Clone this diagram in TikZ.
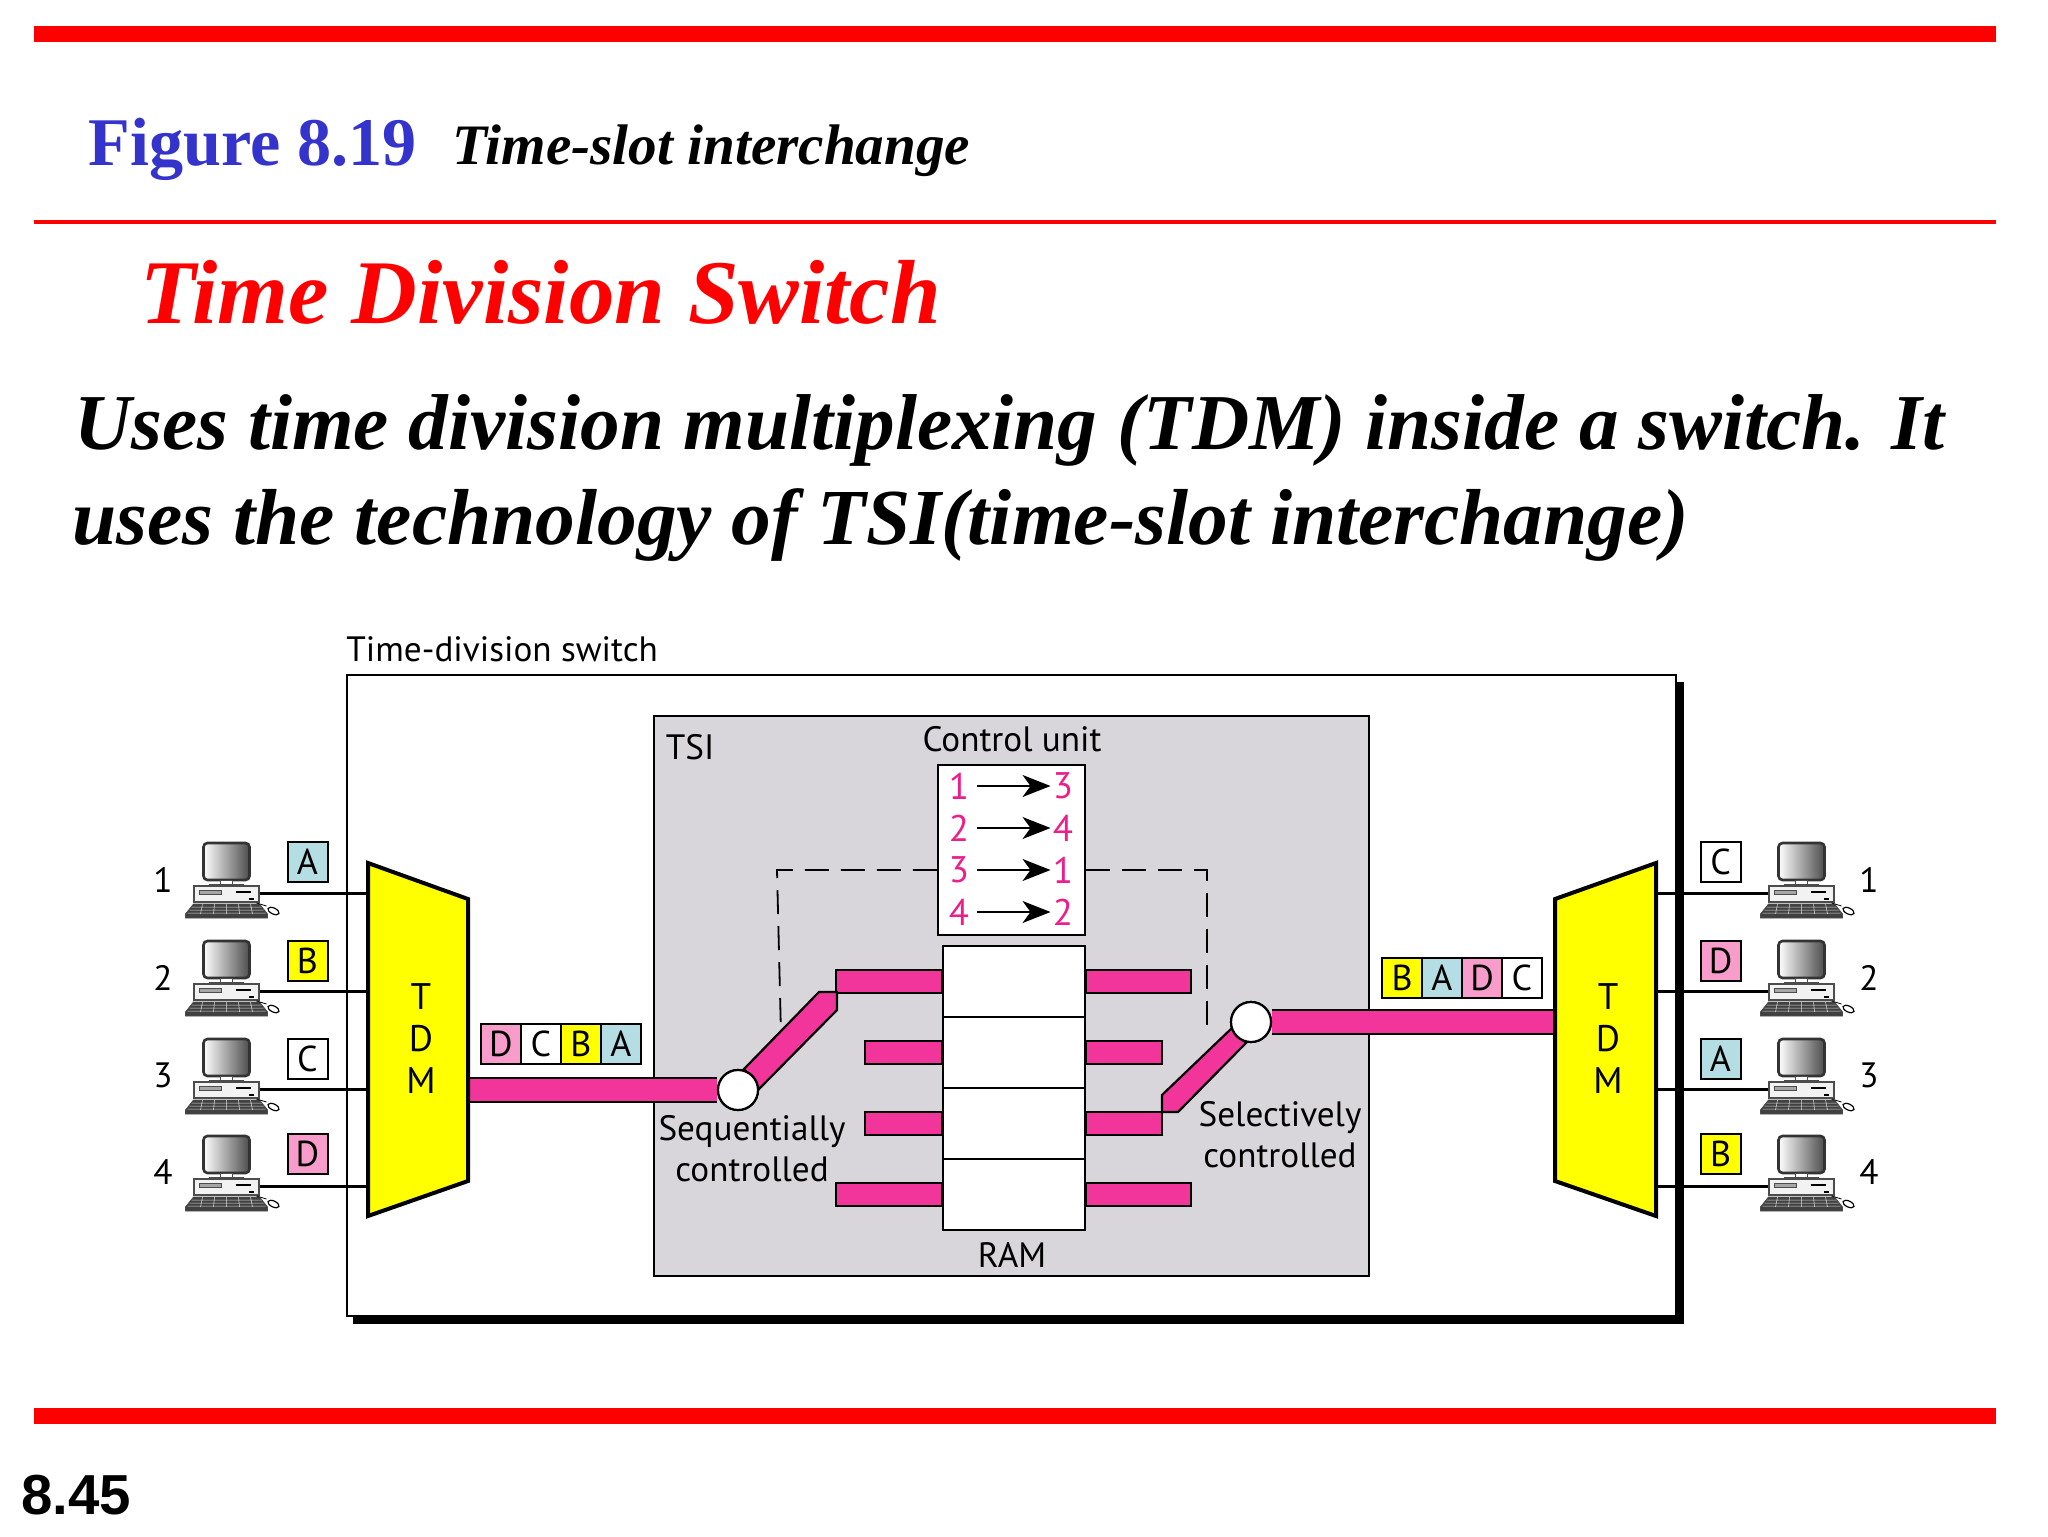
\documentclass[tikz,border=0pt]{standalone}
\usepackage{fontspec}
\setmainfont{Liberation Serif}
\newfontfamily\labelfont{PT Sans}
\newfontfamily\pagefont{Liberation Sans}
\usetikzlibrary{arrows.meta,chains,positioning,shapes}
\definecolor{barred}{HTML}{FF0000}
\definecolor{titleblue}{HTML}{3434CC}
\definecolor{linkpink}{HTML}{F2359A}
\definecolor{slotpink}{HTML}{F79CCB}
\definecolor{slotblue}{HTML}{B5DDE4}
\definecolor{slotyellow}{HTML}{FFFF00}
\definecolor{tsigray}{HTML}{D8D6DA}
\definecolor{digitpink}{HTML}{EC1E8C}
\tikzstyle{redbar}=[fill=barred,draw=none]
\tikzstyle{heading}=[anchor=base west,inner sep=0pt]
\tikzstyle{label}=[inner sep=0pt,font=\labelfont\fontsize{17.6}{20.5}\selectfont,align=center]
\tikzstyle{tdmlabel}=[inner sep=0pt,font=\labelfont\fontsize{18.5}{21}\selectfont,align=center]
\tikzstyle{slot}=[draw,line width=1pt,minimum size=20pt,inner sep=0pt,font=\labelfont\fontsize{18}{20}\selectfont]
\tikzstyle{tdmbody}=[draw,line width=2pt,fill=slotyellow,line join=miter]
\tikzstyle{link}=[draw,line width=1.1pt,fill=linkpink]
\tikzstyle{trunk}=[line width=1.1pt,double=linkpink,double distance=11pt]
\tikzstyle{wire}=[draw,line width=1.5pt]
\tikzstyle{ramcell}=[draw,line width=1pt,fill=white,minimum width=71pt,minimum height=35.5pt,inner sep=0pt]
\tikzstyle{digit}=[inner sep=0pt,text=digitpink,font=\labelfont\fontsize{18.5}{20}\selectfont]
\tikzstyle{mapping}=[line width=.9pt,-{Stealth[length=14pt,width=11pt,inset=4pt]},shorten <=4pt,shorten >=1pt]
\tikzstyle{gate}=[draw,line width=1.1pt,fill=white,circle,minimum size=20pt,inner sep=0pt]
\tikzstyle{ctrlline}=[line width=.9pt,dash pattern=on 12pt off 6pt]
\newcommand{\workstation}[3]{%
    \draw[line width=1.3pt,rounded corners=2pt,left color=white,right color=black!70,draw=black!80] (#2-23,#3-50) rectangle (#2+23,#3-13);
    \draw[fill=white,draw=black!70,line width=.5pt] (#2-6,#3-13) rectangle (#2+6,#3-9);
    \draw[fill=black!30,draw=black!70,line width=.5pt] (#2-17,#3-9) rectangle (#2+17,#3-7);
    \node[draw=black!70,fill=black!5,line width=.6pt,minimum width=32.5pt,minimum height=8pt,inner sep=0pt] (#1) at (#2,#3+1) {};
    \draw[fill=black!35,draw=black!70,line width=.4pt] (#2-27,#3-3) rectangle (#2-5,#3+1);
    \draw[line width=.6pt] (#2+9,#3-1) -- (#2+24,#3-1);
    \fill (#2+22,#3+5) rectangle (#2+27,#3+7);
    \draw[fill=black!75,draw=black!70,line width=.4pt] (#2-33,#3+11) -- (#2+33,#3+11) -- (#2+41,#3+21) -- (#2+41,#3+25) -- (#2-41,#3+25) -- (#2-41,#3+21) -- cycle;
    \draw[black!15,line width=.25pt] (#2-35,#3+14) -- (#2+35,#3+14) (#2-37,#3+17) -- (#2+37,#3+17) (#2-39,#3+20) -- (#2+39,#3+20)
        (#2-24,#3+11) -- (#2-26,#3+21) (#2-12,#3+11) -- (#2-13,#3+21) (#2,#3+11) -- (#2,#3+21) (#2+12,#3+11) -- (#2+13,#3+21) (#2+24,#3+11) -- (#2+26,#3+21);
    \draw[line width=.4pt] (#2+30,#3+10) -- (#2+40,#3+13);
    \draw[fill=white,line width=.6pt,rotate around={-25:(#2+47,#3+18)}] (#2+47,#3+18) ellipse (6 and 3);
}

\begin{document}
\begin{tikzpicture}[x=.5pt,y=-.5pt]
\useasboundingbox (0,0) rectangle (2048,1536);
% rules of the slide
\fill[redbar] (34,26) rectangle (1996,42);
\fill[redbar] (34,220) rectangle (1996,223.5);
\fill[redbar] (34,1408) rectangle (1996,1424);
% headings
\node[heading,text=titleblue,font=\bfseries\fontsize{34.1}{40}\selectfont] (figno) at (88,165) {Figure 8.19};
\node[heading,font=\bfseries\itshape\fontsize{28.6}{34}\selectfont] (figname) at (452.5,164.5) {Time-slot interchange};
\node[heading,text=barred,font=\bfseries\itshape\fontsize{45.5}{54}\selectfont] (topic) at (140,323) {Time Division Switch};
\node[heading,font=\bfseries\itshape\fontsize{39.6}{46}\selectfont] (lineone) at (74,449) {Uses time division multiplexing (TDM) inside a switch. It};
\node[heading,font=\bfseries\itshape\fontsize{39.7}{46}\selectfont] (linetwo) at (72,544) {uses the technology of TSI(time-slot interchange)};
\node[heading,font=\pagefont\bfseries\fontsize{28.2}{34}\selectfont] (pageno) at (21,1514) {8.45};

% switch frame
\fill[black] (353,682) rectangle (1684,1324);
\draw[line width=1pt,fill=white] (347,675) rectangle (1676,1316);
\node[label,anchor=west] (switchname) at (346,649) {Time-division switch};
\draw[line width=1.1pt,fill=tsigray] (654,716) rectangle (1369,1276);
\node[label] (tsiname) at (690,747) {TSI};
\node[label] (ctrlname) at (1012,739) {Control unit};
\node[label] (ramname) at (1012,1255) {RAM};

% control unit
\node[draw,line width=1.1pt,fill=white,minimum width=73.5pt,minimum height=85pt,inner sep=0pt] (ctrl) at (1011.5,850) {};
\node[digit] (from1) at (959,786) {1};
\node[digit] (to1) at (1063,786) {3};
\node[digit] (from2) at (959,828) {2};
\node[digit] (to2) at (1063,828) {4};
\node[digit] (from3) at (959,870) {3};
\node[digit] (to3) at (1063,870) {1};
\node[digit] (from4) at (959,912) {4};
\node[digit] (to4) at (1063,912) {2};
\draw[mapping] (from1) -- (to1);
\draw[mapping] (from2) -- (to2);
\draw[mapping] (from3) -- (to3);
\draw[mapping] (from4) -- (to4);
\coordinate (dashL) at (781,1035);
\coordinate (dashR) at (1207,1035);
\draw[ctrlline] (ctrl.west |- from3) -- (777,870) -- (dashL);
\draw[ctrlline] (ctrl.east |- to3) -- (1207,870) -- (dashR);

% RAM
\begin{scope}[start chain=ram going below, node distance=-1pt]
    \node [on chain=ram,ramcell] (ram1) at (1014,981.5) {};
    \node [on chain=ram,ramcell] (ram2) {};
    \node [on chain=ram,ramcell] (ram3) {};
    \node [on chain=ram,ramcell] (ram4) {};
\end{scope}
\draw[link] (ram1.west) ++(-106,-11.5) rectangle ++(106,23);
\draw[link] (ram2.west) ++(-77,-11.5) rectangle ++(77,23);
\draw[link] (ram3.west) ++(-77,-11.5) rectangle ++(77,23);
\draw[link] (ram4.west) ++(-106,-11.5) rectangle ++(106,23);
\draw[link] (ram1.east) ++(0,-11.5) rectangle ++(105,23);
\draw[link] (ram2.east) ++(0,-11.5) rectangle ++(76,23);
\draw[link] (ram3.east) ++(0,-11.5) rectangle ++(76,23);
\draw[link] (ram4.east) ++(0,-11.5) rectangle ++(105,23);

% rotating arms and trunk lines
\draw[link] (744,1069) -- (819,992) -- (837,992) -- (837,1010) -- (759,1089) -- cycle;
\draw[link] (1162,1112) -- (1162,1095) -- (1233,1027) -- (1246,1043) -- (1178,1112) -- cycle;
\coordinate (tdminE) at (469,1090);
\coordinate (tdmoutW) at (1555,1022);
\node[gate] (gatein) at (738,1090) {};
\node[gate] (gateout) at (1251,1022) {};
\draw[trunk] (tdminE) -- (gatein);
\draw[trunk] (gateout) -- (tdmoutW);
\node[gate] at (gatein) {};
\node[gate] at (gateout) {};
\node[label] (seqname) at (752,1149) {Sequentially\\controlled};
\node[label] (selname) at (1280,1135) {Selectively\\controlled};

% multiplexers
\draw[tdmbody] (368,863) -- (468,899) -- (468,1181) -- (368,1216) -- cycle;
\draw[tdmbody] (1555,899) -- (1656,863) -- (1656,1216) -- (1555,1181) -- cycle;
\node[tdmlabel] (tdmin) at (421,1039) {T\\D\\M};
\node[tdmlabel] (tdmout) at (1608,1039) {T\\D\\M};
\coordinate (tdminW1) at (368,893);
\coordinate (tdminW2) at (368,991);
\coordinate (tdminW3) at (368,1089);
\coordinate (tdminW4) at (368,1186);
\coordinate (tdmoutE1) at (1656,893);
\coordinate (tdmoutE2) at (1656,991);
\coordinate (tdmoutE3) at (1656,1089);
\coordinate (tdmoutE4) at (1656,1186);

% stations
\workstation{pcL1}{226.5}{893}
\workstation{pcL2}{226.5}{991}
\workstation{pcL3}{226.5}{1089}
\workstation{pcL4}{226.5}{1186}
\workstation{pcR1}{1801.5}{893}
\workstation{pcR2}{1801.5}{991}
\workstation{pcR3}{1801.5}{1089}
\workstation{pcR4}{1801.5}{1186}
\draw[wire] (pcL1.east |- tdminW1) -- (tdminW1);
\draw[wire] (pcL2.east |- tdminW2) -- (tdminW2);
\draw[wire] (pcL3.east |- tdminW3) -- (tdminW3);
\draw[wire] (pcL4.east |- tdminW4) -- (tdminW4);
\draw[wire] (tdmoutE1) -- (pcR1.west |- tdmoutE1);
\draw[wire] (tdmoutE2) -- (pcR2.west |- tdmoutE2);
\draw[wire] (tdmoutE3) -- (pcR3.west |- tdmoutE3);
\draw[wire] (tdmoutE4) -- (pcR4.west |- tdmoutE4);
\node[label] (numL1) at (163,880) {1};
\node[label] (numL2) at (163,978) {2};
\node[label] (numL3) at (163,1075) {3};
\node[label] (numL4) at (163,1172) {4};
\node[label] (numR1) at (1869,880) {1};
\node[label] (numR2) at (1869,978) {2};
\node[label] (numR3) at (1869,1075) {3};
\node[label] (numR4) at (1869,1172) {4};

% time slots at the stations
\node[slot,fill=slotblue] (srcA) at (307.5,861.5) {A};
\node[slot,fill=slotyellow] (srcB) at (307.5,961) {B};
\node[slot] (srcC) at (307.5,1058.5) {C};
\node[slot,fill=slotpink] (srcD) at (307.5,1153.5) {D};
\node[slot] (dstC) at (1720.5,861.5) {C};
\node[slot,fill=slotpink] (dstD) at (1720.5,961) {D};
\node[slot,fill=slotblue] (dstA) at (1720.5,1058.5) {A};
\node[slot,fill=slotyellow] (dstB) at (1720.5,1153.5) {B};

% frames on the trunks
\begin{scope}[start chain=inframe going right, node distance=-1pt]
    \node [on chain=inframe,slot,fill=slotpink] (inD) at (501,1044) {D};
    \node [on chain=inframe,slot] (inC) {C};
    \node [on chain=inframe,slot,fill=slotyellow] (inB) {B};
    \node [on chain=inframe,slot,fill=slotblue] (inA) {A};
\end{scope}
\begin{scope}[start chain=outframe going right, node distance=-1pt]
    \node [on chain=outframe,slot,fill=slotyellow] (outB) at (1402,977.5) {B};
    \node [on chain=outframe,slot,fill=slotblue] (outA) {A};
    \node [on chain=outframe,slot,fill=slotpink] (outD) {D};
    \node [on chain=outframe,slot] (outC) {C};
\end{scope}
\end{tikzpicture}
\end{document}
